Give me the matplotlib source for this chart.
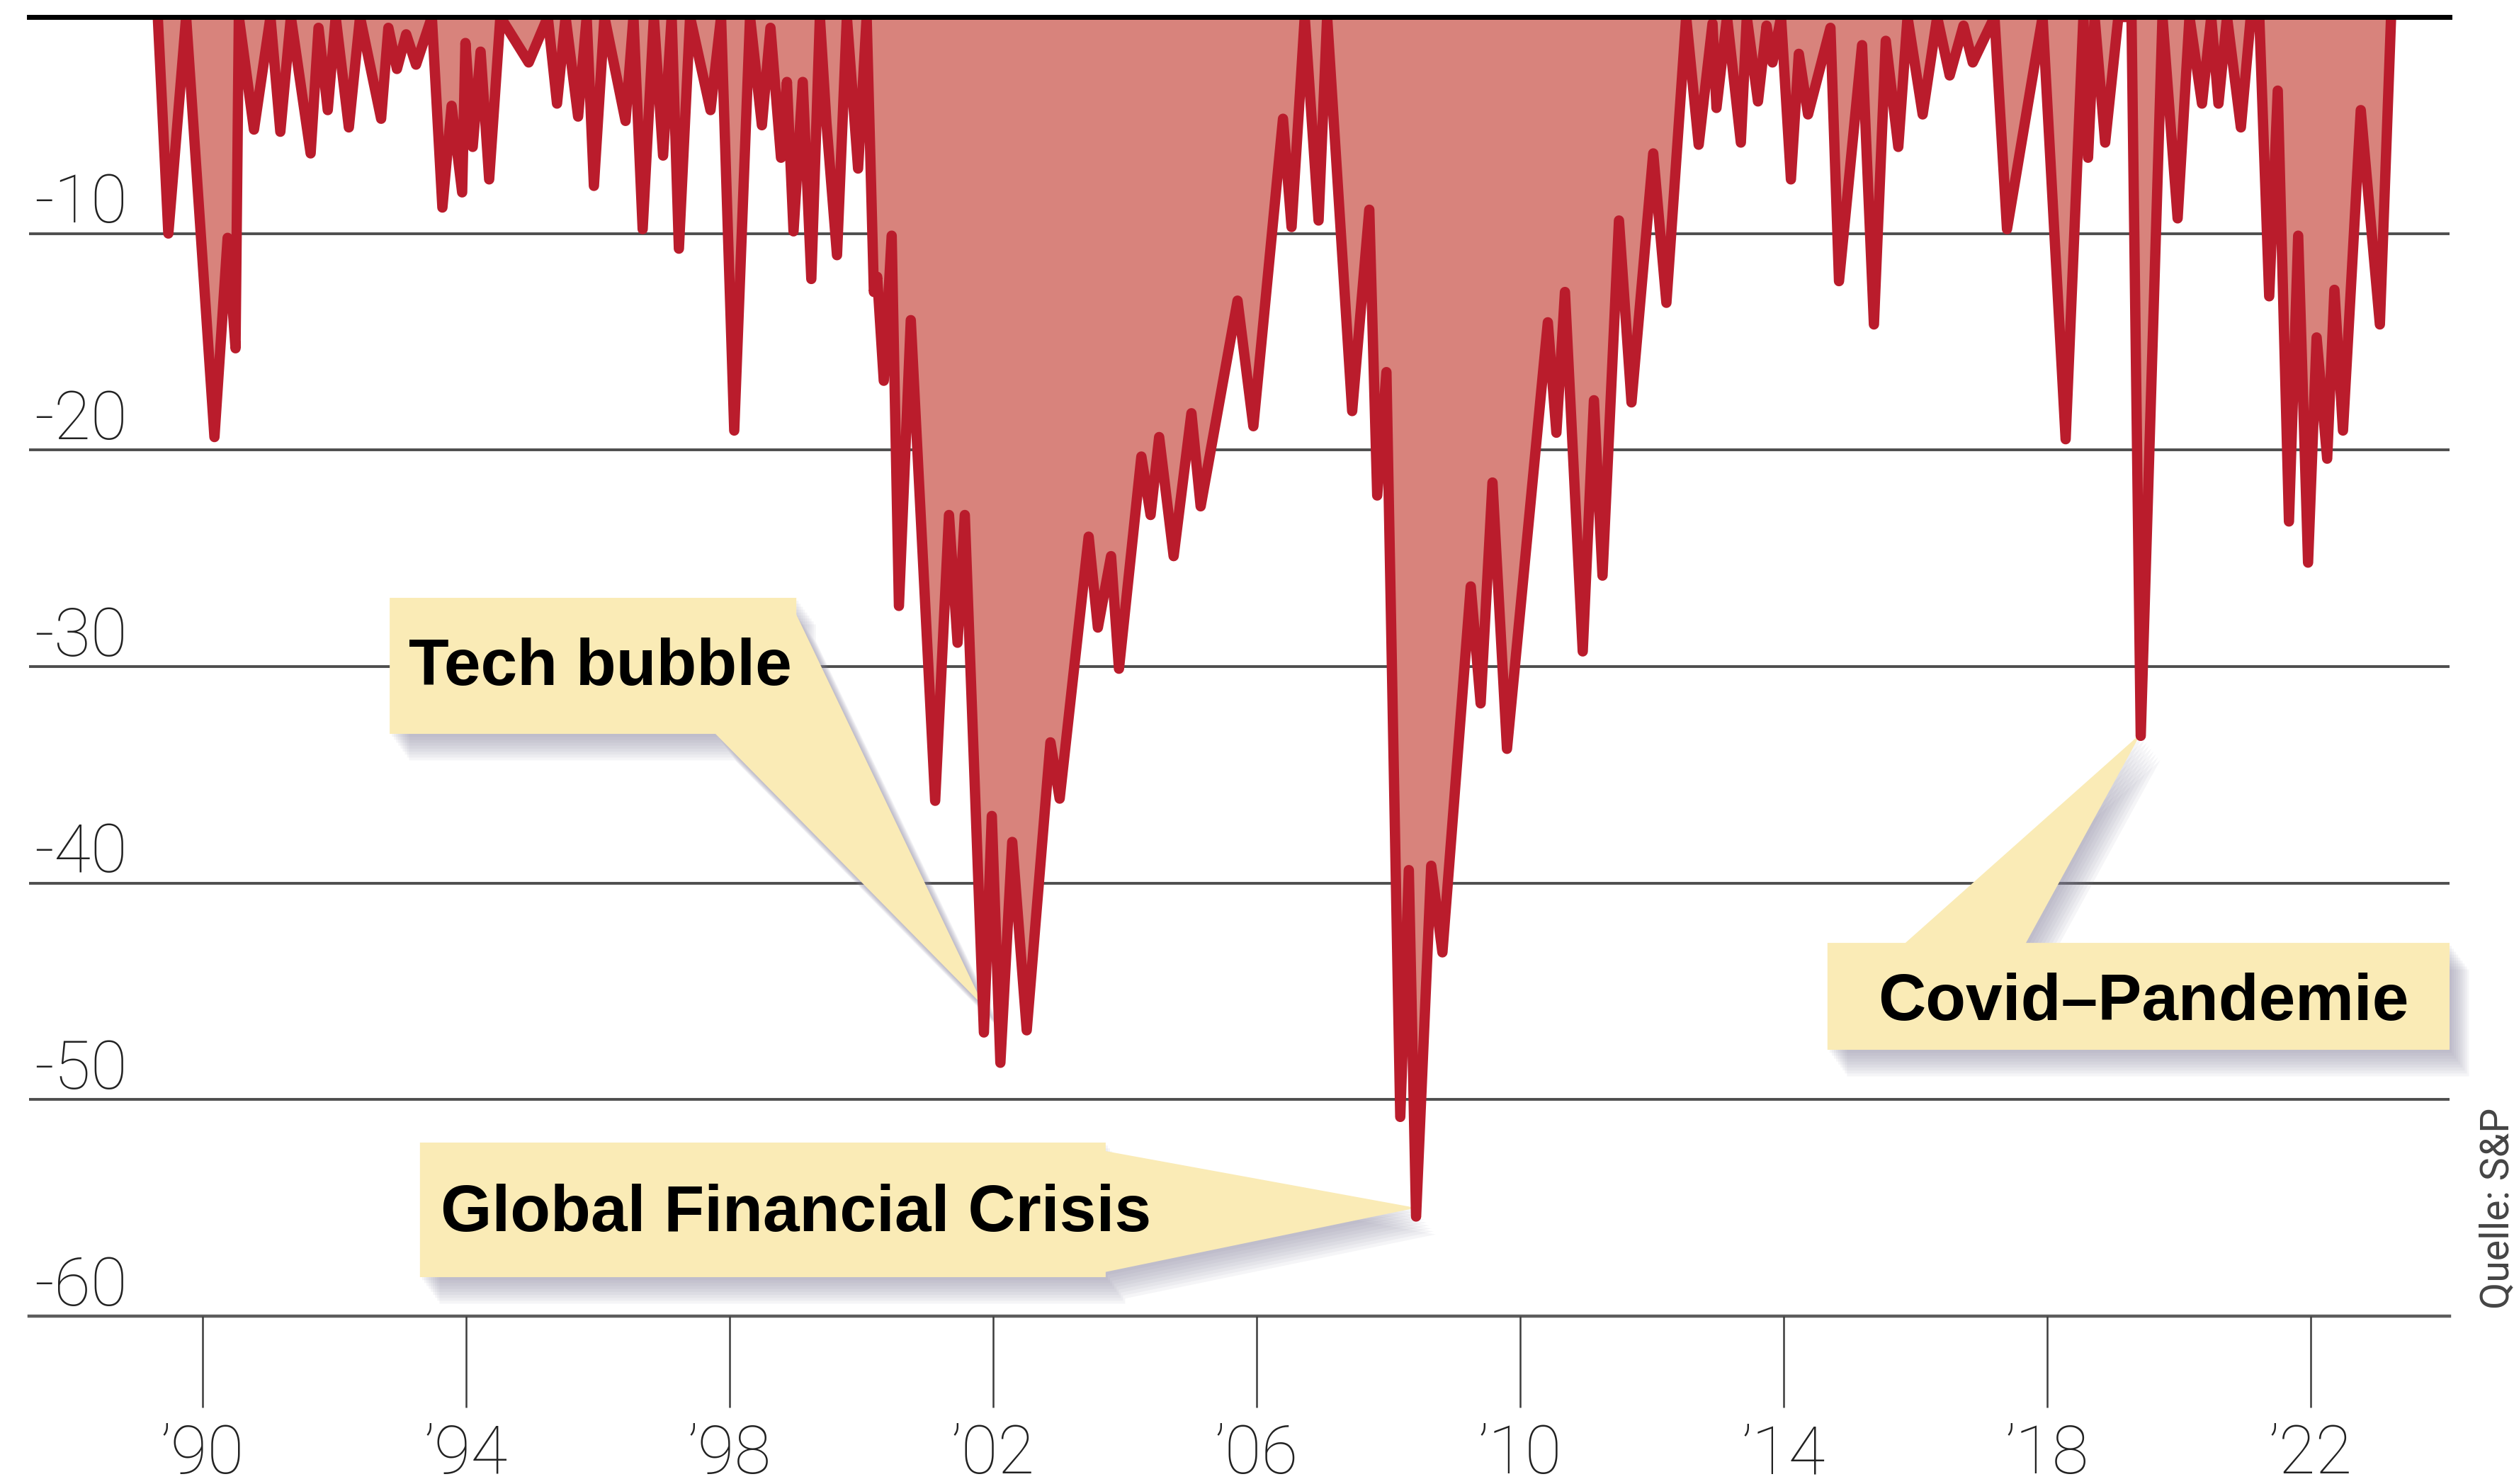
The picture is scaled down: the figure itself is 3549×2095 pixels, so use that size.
#S&P drawdown chart with callouts (Tech bubble, GFC, Covid)
import numpy as np
import matplotlib.pyplot as plt
import matplotlib.patheffects as pe
from matplotlib.patches import Polygon
from matplotlib.transforms import blended_transform_factory

#values: year, drawdown in %
years = [1989.32, 1989.48, 1989.75, 1990.18, 1990.38, 1990.50, 1990.55, 1990.78, 1991.03, 1991.18,
         1991.34, 1991.64, 1991.76, 1991.90, 1992.02, 1992.22, 1992.39, 1992.71, 1992.82, 1992.95,
         1993.09, 1993.24, 1993.48, 1993.64, 1993.78, 1993.94, 1993.99, 1994.10, 1994.22, 1994.35,
         1994.52, 1994.95, 1995.24, 1995.38, 1995.51, 1995.70, 1995.83, 1995.94, 1996.10, 1996.42,
         1996.54, 1996.68, 1996.85, 1996.99, 1997.12, 1997.23, 1997.40, 1997.71, 1997.87, 1998.07,
         1998.31, 1998.49, 1998.62, 1998.78, 1998.87, 1998.97, 1999.11, 1999.24, 1999.37, 1999.47,
         1999.63, 1999.78, 1999.95, 2000.08, 2000.19, 2000.24, 2000.34, 2000.46, 2000.57, 2000.75,
         2001.12, 2001.33, 2001.46, 2001.57, 2001.86, 2001.98, 2002.11, 2002.29, 2002.51, 2002.87,
         2003.01, 2003.45, 2003.59, 2003.79, 2003.91, 2004.25, 2004.39, 2004.52, 2004.74, 2005.01,
         2005.15, 2005.71, 2005.95, 2006.40, 2006.53, 2006.73, 2006.94, 2007.07, 2007.45, 2007.71,
         2007.83, 2007.97, 2008.18, 2008.31, 2008.42, 2008.65, 2008.82, 2009.25, 2009.40, 2009.58,
         2009.80, 2010.42, 2010.55, 2010.68, 2010.95, 2011.12, 2011.25, 2011.50, 2011.69, 2012.02,
         2012.22, 2012.52, 2012.71, 2012.92, 2012.98, 2013.14, 2013.35, 2013.44, 2013.61, 2013.74,
         2013.83, 2013.96, 2014.11, 2014.23, 2014.37, 2014.71, 2014.84, 2015.19, 2015.37, 2015.55,
         2015.74, 2015.88, 2016.11, 2016.33, 2016.52, 2016.73, 2016.87, 2017.20, 2017.39, 2017.93,
         2018.28, 2018.55, 2018.62, 2018.72, 2018.88, 2019.08, 2019.28, 2019.42, 2019.75, 2019.98,
         2020.16, 2020.35, 2020.49, 2020.60, 2020.73, 2020.94, 2021.09, 2021.22, 2021.37, 2021.50,
         2021.67, 2021.81, 2021.96, 2022.09, 2022.25, 2022.36, 2022.49, 2022.76, 2023.05, 2023.22]
drawdown = [0, -10.0, 0, -19.4, -10.2, -15.3, 0, -5.2, 0, -5.3,
            0, -6.3, -0.5, -4.3, 0, -5.1, 0, -4.7, -0.5, -2.4,
            -0.8, -2.2, 0, -8.8, -4.1, -8.1, -1.2, -6.0, -1.6, -7.5,
            0, -2.1, 0, -4.0, 0, -4.6, 0, -7.8, 0, -4.8,
            0, -9.8, 0, -6.4, 0, -10.7, 0, -4.3, 0, -19.1,
            0, -5.0, -0.5, -6.5, -3.0, -9.9, -3.0, -12.1, 0, -4.9,
            -11.0, 0, -7.0, 0, -12.7, -12.0, -16.8, -10.1, -27.2, -14.0,
            -36.2, -23.0, -28.9, -23.0, -46.9, -36.9, -48.3, -38.1, -46.8, -33.5,
            -36.1, -24.0, -28.2, -24.9, -30.1, -20.3, -23.0, -19.4, -24.9, -18.3,
            -22.6, -13.1, -18.9, -4.7, -9.7, 0, -9.4, 0, -18.2, -8.9,
            -22.1, -16.4, -50.8, -39.4, -55.4, -39.2, -43.2, -26.3, -31.7, -21.5,
            -33.8, -14.1, -19.2, -12.7, -29.3, -17.7, -25.8, -9.4, -17.8, -6.3,
            -13.2, 0, -5.9, -0.3, -4.2, 0, -5.8, 0, -3.9, -0.4,
            -2.1, 0, -7.5, -1.7, -4.5, -0.5, -12.2, -1.3, -14.2, -1.1,
            -6.0, 0, -4.5, 0, -2.7, -0.4, -2.1, 0, -9.8, 0,
            -19.5, 0, -6.5, 0, -5.8, 0, 0, -33.2, 0, -9.3,
            0, -4.0, 0, -4.0, 0, -5.1, 0, 0, -12.9, -3.4,
            -23.3, -10.1, -25.2, -14.8, -20.4, -12.6, -19.1, -4.3, -14.2, 0]

tick_years = [1990, 1994, 1998, 2002, 2006, 2010, 2014, 2018, 2022]
tick_labels = ["\u201990", "\u201994", "\u201998", "\u201902", "\u201906",
               "\u201910", "\u201914", "\u201918", "\u201922"]
grid_levels = [-10, -20, -30, -40, -50, -60]
grid_labels = ["-10", "-20", "-30", "-40", "-50", "-60"]

note_texts = ["Tech bubble", "Global Financial Crisis", "Covid\u2013Pandemie"]
note_windows = [(2001.5, 2002.0), (2008.0, 2009.0), (2019.0, 2020.0)]

red = "#BA1C2C"
salmon = "#D8837C"
paper = "#FAEBB6"

fig = plt.figure(figsize=(35.49, 20.95), dpi=100)
ax = fig.add_axes([41/3549, 1-1858/2095, 3417/3549, 1834/2095])
ax.set_xlim(1990+(41-286)/93, 1990+(3458-286)/93)
ax.set_ylim(-60, 0)

x = np.array(years)
y = np.array(drawdown)

#gridlines under the fill
for lev in grid_levels[:-1]:
    ax.axhline(lev, color="#4e4e4e", lw=2.8, zorder=1)
ax.axhline(-60, color="#5c5c5c", lw=3.2, zorder=1, clip_on=False)
ax.axhline(0, color="black", lw=5, zorder=8, clip_on=False)

ax.fill_between(x, y, 0, color=salmon, lw=0, zorder=2)
ax.plot(x, y, color=red, lw=10.5, solid_joinstyle="round", solid_capstyle="round", zorder=6)

#y labels sit on top of their gridline at the left edge
trans = blended_transform_factory(ax.transAxes, ax.transData)
for lev, lab in zip(grid_levels, grid_labels):
    ax.text(0.002, lev+0.5, lab, transform=trans, fontsize=68, family="Roboto",
            fontweight="light", color="#222222", ha="left", va="baseline", zorder=3)

ax.set_xticks(tick_years, tick_labels)
ax.tick_params(axis="x", length=93, width=1.8, color="#3c3c3c", pad=16, labelsize=68,
               labelcolor="#222222")
for t in ax.get_xticklabels():
    t.set_fontfamily("Roboto")
    t.set_fontweight("light")
ax.set_yticks([])
for s in ax.spines.values():
    s.set_visible(False)

#callouts: box + wedge pointing at the trough, in axes fractions
def tip_of(window, lift):
    m = (x > window[0]) & (x < window[1])
    i = np.where(m)[0][np.argmin(y[m])]
    px = ax.transData.transform((x[i], y[i]+lift))
    return ax.transAxes.inverted().transform(px)

shadow = [pe.SimplePatchShadow(offset=(k*2.2, -k*3.0), shadow_rgbFace="#8a86a0", alpha=0.08)
          for k in range(1, 10)] + [pe.Normal()]

tip1 = tip_of(note_windows[0], 1.2)
tip2 = tip_of(note_windows[1], 0.4)
tip3 = tip_of(note_windows[2], 0.1)

shapes = [
    [(0.149, 0.5529), (0.317, 0.5529), (0.317, 0.540), tuple(tip1), (0.2836, 0.4482), (0.149, 0.4482)],
    [(0.1615, 0.1336), (0.4448, 0.1336), (0.4448, 0.127), tuple(tip2), (0.4448, 0.034),
     (0.4448, 0.030), (0.1615, 0.030)],
    [(0.743, 0.2873), (0.7752, 0.2873), tuple(tip3), (0.825, 0.2873), (1.0, 0.2873),
     (1.0, 0.205), (0.743, 0.205)],
]
text_pos = [(0.1569, 0.4858), (0.1700, 0.0654), (0.7640, 0.2280)]

for verts, txt, pos in zip(shapes, note_texts, text_pos):
    p = Polygon(verts, closed=True, transform=ax.transAxes, facecolor=paper, edgecolor="none",
                zorder=5, clip_on=False)
    p.set_path_effects(shadow)
    ax.add_patch(p)
    ax.text(pos[0], pos[1], txt, transform=ax.transAxes, fontsize=67, fontweight="bold",
            family="Liberation Sans", color="black", ha="left", va="baseline", zorder=7)

fig.text(3526/3549, 1-1706/2095, "Quelle: S&P", rotation=90, ha="center", va="center",
         fontsize=40, family="Roboto", color="#444444")

plt.savefig("out.png", dpi=100)
